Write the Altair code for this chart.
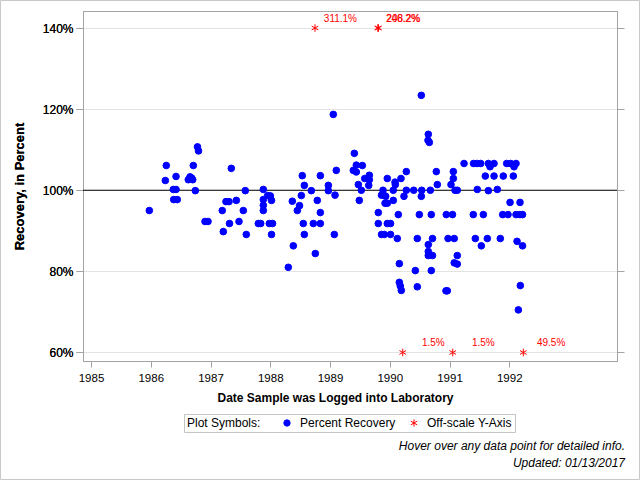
import altair as alt
import pandas as pd

# Date each spiked sample was logged (decimal year) and its recovery in percent
log_year = [
    1985.976, 1986.244, 1986.260, 1986.377, 1986.384, 1986.423, 1986.423, 1986.444,
    1986.628, 1986.657, 1986.685, 1986.702, 1986.712, 1986.746, 1986.782, 1986.799,
    1986.908, 1986.958, 1987.197, 1987.214, 1987.259, 1987.310, 1987.318, 1987.348,
    1987.432, 1987.477, 1987.549, 1987.582, 1987.599, 1987.800, 1987.840, 1987.884,
    1987.884, 1987.884, 1987.884, 1987.957, 1988.001, 1988.021, 1987.984, 1988.038,
    1988.021, 1988.302, 1988.369, 1988.386, 1988.453, 1988.490, 1988.520, 1988.536,
    1988.570, 1988.553, 1988.570, 1988.687, 1988.721, 1988.754, 1988.787, 1988.838,
    1988.838, 1988.838, 1988.972, 1988.972, 1989.055, 1989.084, 1989.072, 1989.105,
    1989.390, 1989.407, 1989.440, 1989.440, 1989.474, 1989.490, 1989.524, 1989.541,
    1989.581, 1989.648, 1989.658, 1989.658, 1989.808, 1989.808, 1989.862, 1989.862,
    1989.887, 1989.899, 1989.909, 1989.921, 1989.932, 1989.959, 1989.959, 1989.959,
    1990.013, 1990.013, 1990.059, 1990.059, 1990.088, 1990.093, 1990.126, 1990.143,
    1990.160, 1990.160, 1990.176, 1990.193, 1990.188, 1990.238, 1990.277, 1990.277,
    1990.401, 1990.428, 1990.461, 1990.461, 1990.495, 1990.528, 1990.535, 1990.528,
    1990.645, 1990.640, 1990.662, 1990.679, 1990.695, 1990.715, 1990.645, 1990.645,
    1990.645, 1990.715, 1990.695, 1990.779, 1990.796, 1990.946, 1990.975, 1990.941,
    1990.963, 1991.025, 1991.064, 1991.064, 1991.092, 1991.130, 1991.050, 1991.079,
    1991.130, 1991.079, 1991.130, 1991.243, 1991.402, 1991.460, 1991.522, 1991.465,
    1991.398, 1991.566, 1991.432, 1991.532, 1991.633, 1991.650, 1991.678, 1991.745,
    1991.599, 1991.745, 1991.900, 1992.068, 1991.650, 1991.800, 1991.850, 1991.957,
    1992.024, 1992.113, 1992.080, 1992.013, 1992.180, 1991.890, 1991.979, 1992.113,
    1992.180, 1992.222, 1992.130, 1992.222, 1992.185, 1992.152,
]
recovery = [
    95.0, 102.4, 106.1, 100.2, 97.7, 103.4, 100.2, 97.7,
    102.6, 103.3, 103.0, 102.6, 106.1, 99.9, 110.7, 109.7,
    92.3, 92.3, 95.0, 89.8, 97.2, 97.2, 91.8, 105.4,
    97.5, 92.3, 95.0, 99.9, 89.1, 91.8, 91.8, 100.2,
    97.7, 96.3, 95.0, 98.7, 98.6, 97.5, 91.8, 91.8,
    89.1, 81.0, 97.3, 86.3, 95.0, 96.2, 98.7, 103.6,
    101.2, 91.8, 89.1, 99.9, 91.8, 84.4, 97.5, 103.6,
    94.5, 91.8, 101.2, 99.9, 118.7, 98.8, 89.1, 104.9,
    104.9, 109.1, 106.2, 104.5, 101.4, 97.5, 100.0, 106.1,
    102.9, 101.2, 103.7, 102.6, 94.5, 91.8, 98.8, 89.1,
    100.0, 98.8, 89.1, 96.8, 98.5, 102.9, 96.8, 91.8,
    91.8, 89.1, 100.0, 97.5, 102.0, 101.4, 88.1, 94.0,
    81.9, 77.3, 76.4, 75.3, 102.9, 98.5, 104.6, 100.0,
    100.0, 80.2, 88.1, 76.2, 94.0, 123.4, 100.0, 98.5,
    113.8, 112.3, 111.8, 100.0, 94.0, 88.1, 86.6, 84.9,
    83.9, 83.9, 80.2, 104.6, 101.4, 94.0, 88.1, 75.2,
    75.2, 101.4, 102.9, 104.6, 100.0, 100.0, 94.0, 88.1,
    83.9, 82.1, 81.8, 106.6, 106.6, 106.6, 106.6, 100.2,
    94.0, 94.0, 88.1, 86.3, 88.1, 106.6, 105.8, 106.6,
    103.5, 103.5, 103.5, 103.5, 99.9, 100.2, 88.1, 106.6,
    106.6, 106.6, 105.8, 97.0, 97.0, 94.0, 94.0, 94.0,
    94.0, 94.0, 87.4, 86.3, 76.5, 70.5,
]

# Samples whose recovery lies beyond the 60%-140% axis range
off_year = [1988.749, 1989.800, 1989.810, 1990.217, 1991.054, 1992.235]
off_recovery = [311.1, 246.2, 208.2, 1.5, 1.5, 49.5]

kinds = ["Percent Recovery", "Off-scale Y-Axis"]
year_ticks = [1985, 1986, 1987, 1988, 1989, 1990, 1991, 1992]
pct_ticks = [60, 80, 100, 120, 140]
notes = ["Hover over any data point for detailed info.", "Updated: 01/13/2017"]

FONT = "Liberation Sans"
FRAME = "#a3a3a3"
ASTERISK = "M0,-1.15L0,1.15M-1,-0.58L1,0.58M-1,0.58L1,-0.58"

samples = pd.DataFrame({
    "year": log_year + off_year,
    "recovery": recovery + off_recovery,
    "kind": [kinds[0]] * len(log_year) + [kinds[1]] * len(off_year),
})
off_df = pd.DataFrame({"year": off_year, "recovery": off_recovery})

x_scale = alt.Scale(domain=[1984.866, 1993.803], nice=False, zero=False)
y_scale = alt.Scale(domain=[57.9, 144.2], nice=False, zero=False)

x_axis = alt.Axis(
    values=year_ticks, format="d", title="Date Sample was Logged into Laboratory",
    grid=False, tickSize=6, labelPadding=5, labelFontSize=11.5, titleX=252, titleY=36,
    titleBaseline="middle", titleFontSize=12,
)
y_axis = alt.Axis(
    values=pct_ticks, labelExpr="datum.value + '%'", title="Recovery, in Percent",
    grid=True, gridColor="#e3e3e3", tickSize=7, labelPadding=3, labelFontSize=12,
    titleX=-64, titleY=175, titleAngle=-90, titleBaseline="middle",
    titleAlign="center", titleFontSize=13,
)

legend = alt.Legend(
    title="Plot Symbols:", orient="none", legendX=101, legendY=403,
    direction="horizontal", titleOrient="left", titlePadding=20,
    strokeColor="#c4c4c4", padding=3, symbolSize=40, symbolStrokeWidth=1,
    labelOffset=7, columnPadding=12,
)

shared = dict(
    x=alt.X("year:Q", scale=x_scale, axis=x_axis),
    y=alt.Y("plot_y:Q", scale=y_scale, axis=y_axis),
)

# 100% reference line; its layer also carries the tick-only right axis
ref = alt.Chart(pd.DataFrame({"ref": [100]})).mark_rule(color="black", strokeWidth=1).encode(
    y=alt.Y("ref:Q", scale=y_scale, axis=alt.Axis(
        orient="right", values=pct_ticks, labels=False, grid=False, tickSize=7, title=None)),
)

points = alt.Chart(samples).transform_calculate(
    plot_y="clamp(datum.recovery, 60, 140)",
    recovery_text="format(datum.recovery, '.1f') + '%'",
    logged="format(datum.year, '.2f')",
).mark_point(filled=True, opacity=1, size=44, strokeWidth=1).encode(
    **shared,
    fill=alt.Fill("kind:N", scale=alt.Scale(domain=kinds, range=["#0000ff", "#ff0000"]), legend=legend),
    stroke=alt.Stroke("kind:N", scale=alt.Scale(domain=kinds, range=["#0000ff", "#ff0000"]), legend=legend),
    shape=alt.Shape("kind:N", scale=alt.Scale(domain=kinds, range=["circle", ASTERISK]), legend=legend),
    tooltip=[alt.Tooltip("logged:N", title="Logged"),
             alt.Tooltip("recovery_text:N", title="Recovery")],
)

# Actual values printed beside the clipped symbols
off_labels = alt.Chart(off_df).transform_calculate(
    plot_y="clamp(datum.recovery, 60, 140)",
    label="format(datum.recovery, '.1f') + '%'",
).mark_text(
    color="#ff0000", font=FONT, fontSize=10, align="right", baseline="middle", dx=42, dy=-9,
).encode(**shared, text="label:N")

note_layers = [
    alt.Chart(pd.DataFrame({"note": [txt]})).mark_text(
        font=FONT, fontSize=12, fontStyle="italic", align="right", baseline="middle", color="black",
    ).encode(x=alt.value(542), y=alt.value(yy), text="note:N")
    for txt, yy in zip(notes, [435, 452])
]

frame = alt.Chart(pd.DataFrame({"f": [0]})).mark_rect(
    fillOpacity=0, stroke="#c8c8c8", strokeWidth=1,
).encode(x=alt.value(-82.5), x2=alt.value(556.5), y=alt.value(-10.5), y2=alt.value(468.5))

chart = alt.layer(frame, ref, points, off_labels, *note_layers).resolve_axis(
    y="independent"
).properties(
    width=534, height=350, autosize="none",
    padding={"left": 83, "top": 11, "right": 23, "bottom": 119},
).configure_view(
    stroke=FRAME, strokeWidth=1,
).configure_axis(
    domainColor=FRAME, tickColor=FRAME, labelFont=FONT, labelFontSize=11,
    labelColor="black", titleFont=FONT, titleFontWeight="bold", titleColor="black",
).configure_legend(
    labelFont=FONT, labelFontSize=12, labelColor="black", titleFont=FONT,
    titleFontSize=12, titleFontWeight="normal", titleColor="black",
)

chart.save("out.html", embed_options={"renderer": "svg", "actions": False})
